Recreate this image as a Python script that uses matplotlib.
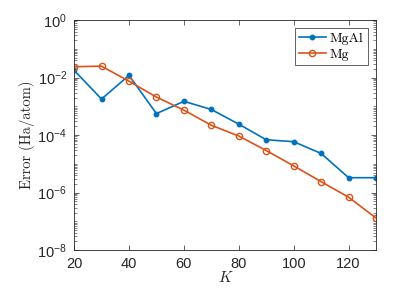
import matplotlib
matplotlib.use('Agg')
import matplotlib.pyplot as plt
from matplotlib.ticker import LogLocator, NullFormatter, FixedLocator

# sans for the tick labels (incl. the 10^x exponents), CM for the axis labels
plt.rcParams['font.family'] = ['Liberation Sans', 'DejaVu Sans']
plt.rcParams['mathtext.fontset'] = 'custom'
plt.rcParams['mathtext.rm'] = 'Liberation Sans'
plt.rcParams['mathtext.it'] = 'Liberation Sans:italic'

K = [20, 30, 40, 50, 60, 70, 80, 90, 100, 110, 120, 130]
err_mgal = [1.8e-2, 1.8e-3, 1.2e-2, 5.6e-4, 1.5e-3, 7.8e-4, 2.4e-4,
            6.9e-5, 5.9e-5, 2.3e-5, 3.3e-6, 3.3e-6]
err_mg = [2.4e-2, 2.5e-2, 7.5e-3, 2.1e-3, 7.4e-4, 2.2e-4, 9.3e-5,
          2.9e-5, 8.5e-6, 2.4e-6, 6.9e-7, 1.3e-7]

blue = '#0072BD'
orange = '#D95319'
dark = '#262626'

fig = plt.figure(figsize=(4.07, 3.05), dpi=100)
ax = fig.add_axes([0.182, 0.18, 0.742, 0.754])

ax.semilogy(K, err_mgal, '-o', color=blue, lw=1.2, ms=3.2,
            mfc=blue, mec=blue, label='MgAl')
ax.semilogy(K, err_mg, '-o', color=orange, lw=1.2, ms=4.5,
            mfc='none', mec=orange, mew=1.0, label='Mg')

ax.set_xlim(20, 130)
ax.set_ylim(1e-8, 1e0)
ax.xaxis.set_major_locator(FixedLocator([20, 40, 60, 80, 100, 120]))
ax.yaxis.set_major_locator(FixedLocator([1e-8, 1e-6, 1e-4, 1e-2, 1e0]))
ax.yaxis.set_minor_locator(LogLocator(base=10, subs=range(1, 10), numticks=20))
ax.yaxis.set_minor_formatter(NullFormatter())

ax.tick_params(which='both', direction='in', top=True, right=True,
               labelsize=10.5, color=dark, labelcolor=dark)
ax.tick_params(which='major', length=3.5, width=0.5)
ax.tick_params(which='minor', length=2, width=0.4)
ax.tick_params(axis='x', pad=5)
ax.tick_params(axis='y', pad=5)
for s in ax.spines.values():
    s.set_linewidth(0.6)
    s.set_color(dark)

ax.set_xlabel('K', fontsize=11, family='cmmi10', labelpad=0, color=dark)
ax.set_ylabel('Error (Ha/atom)', fontsize=10.5, family='cmr10', labelpad=2,
              color=dark)

leg = ax.legend(loc='upper right', prop={'family': 'cmr10', 'size': 10},
                fancybox=False, edgecolor=dark, framealpha=1,
                handlelength=1.9, borderpad=0.3, labelspacing=0.2,
                handletextpad=0.3, borderaxespad=0.6)
leg.get_frame().set_linewidth(0.5)

fig.savefig('out.png', dpi=100)
